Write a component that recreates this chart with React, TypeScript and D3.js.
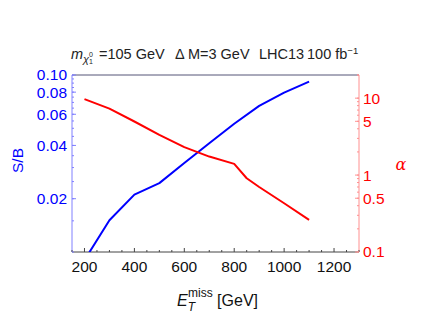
import React, { useEffect, useRef } from "react";
import * as d3 from "d3";

// E_T^miss cut [GeV]
const etCuts = [200, 300, 400, 500, 600, 700, 800, 850, 900, 1000, 1100];
const etCutsSB = [200, 300, 400, 500, 600, 700, 800, 900, 1000, 1100];
// S/B (left axis)
const sbValues = [0.009, 0.0151, 0.0211, 0.0245, 0.0318, 0.0412, 0.053, 0.0669, 0.0795, 0.0917];
// alpha (right axis)
const alphaValues = [9.7, 7.3, 4.97, 3.34, 2.31, 1.74, 1.4, 0.91, 0.7, 0.43, 0.261];

const xTicks = [200, 400, 600, 800, 1000, 1200];
const leftTicks = [0.02, 0.04, 0.06, 0.08, 0.1];
const leftTickLabels = ["0.02", "0.04", "0.06", "0.08", "0.10"];
const rightTicks = [0.1, 0.5, 1, 5, 10];
const rightTickLabels = ["0.1", "0.5", "1", "5", "10"];

const App = () => {
  const svgRef = useRef<SVGSVGElement | null>(null);

  useEffect(() => {
    const svg = d3.select(svgRef.current);
    svg.selectAll("*").remove();

    const width = 432;
    const height = 326;
    const margin = { top: 75, right: 73, bottom: 74, left: 72 };
    const w = width - margin.left - margin.right;
    const h = height - margin.top - margin.bottom;
    const font = "'Liberation Sans', Arial, sans-serif";
    const tickSize = "15.5px";

    const blue = "#0000ff";
    const red = "#ff0000";

    const x = d3.scaleLinear().domain([150, 1300]).range([0, w]);
    const yL = d3.scaleLog().domain([0.01, 0.1]).range([h, 0]);
    const yR = d3.scaleLog().domain([0.1, 20]).range([h, 0]);

    const g = svg.append("g").attr("transform", `translate(${margin.left},${margin.top})`);

    svg
      .append("defs")
      .append("clipPath")
      .attr("id", "plotclip")
      .append("rect")
      .attr("width", w)
      .attr("height", h);

    // frame
    g.append("line").attr("x1", 0).attr("x2", w).attr("y1", 0).attr("y2", 0).attr("stroke", "#555577").attr("stroke-width", 1);
    g.append("line").attr("x1", 0).attr("x2", w).attr("y1", h).attr("y2", h).attr("stroke", "#444").attr("stroke-width", 1);
    g.append("line").attr("x1", 0).attr("x2", 0).attr("y1", 0).attr("y2", h).attr("stroke", "#8080ff").attr("stroke-width", 1);
    g.append("line").attr("x1", w).attr("x2", w).attr("y1", 0).attr("y2", h).attr("stroke", "#ff9090").attr("stroke-width", 1);

    // x ticks (inside)
    const xMinor = d3.range(150, 1301, 50);
    xMinor.forEach((v) => {
      const major = v % 200 === 0;
      g.append("line")
        .attr("x1", x(v)).attr("x2", x(v))
        .attr("y1", h).attr("y2", h - (major ? 4 : 2))
        .attr("stroke", "#444");
    });
    xTicks.forEach((v) => {
      g.append("text")
        .attr("x", x(v)).attr("y", h + 20)
        .attr("text-anchor", "middle")
        .style("font-family", font).style("font-size", tickSize).style("fill", "#111")
        .text(String(v));
    });

    // left ticks
    const leftMinor = d3.range(0.01, 0.1001, 0.005);
    leftMinor.forEach((v) => {
      g.append("line").attr("x1", 0).attr("x2", 2).attr("y1", yL(v)).attr("y2", yL(v)).attr("stroke", "#8080ff");
    });
    leftTicks.forEach((v, i) => {
      g.append("line").attr("x1", 0).attr("x2", 4).attr("y1", yL(v)).attr("y2", yL(v)).attr("stroke", "#8080ff");
      g.append("text")
        .attr("x", -5).attr("y", yL(v)).attr("dy", "0.35em")
        .attr("text-anchor", "end")
        .style("font-family", font).style("font-size", tickSize).style("fill", blue)
        .text(leftTickLabels[i]);
    });
    g.append("text")
      .attr("transform", `translate(-49,${h / 2 - 3}) rotate(-90)`)
      .attr("text-anchor", "middle")
      .style("font-family", font).style("font-size", "15.5px").style("fill", blue)
      .text("S/B");

    // right ticks
    const rightMinor: number[] = [];
    [0.1, 1, 10].forEach((d) => {
      for (let k = 1; k <= 9; k++) if (d * k <= 20) rightMinor.push(d * k);
    });
    rightMinor.push(20);
    rightMinor.forEach((v) => {
      g.append("line").attr("x1", w).attr("x2", w - 2).attr("y1", yR(v)).attr("y2", yR(v)).attr("stroke", "#ff9090");
    });
    rightTicks.forEach((v, i) => {
      g.append("line").attr("x1", w).attr("x2", w - 4).attr("y1", yR(v)).attr("y2", yR(v)).attr("stroke", "#ff9090");
      g.append("text")
        .attr("x", w + 4).attr("y", yR(v)).attr("dy", "0.35em")
        .attr("text-anchor", "start")
        .style("font-family", font).style("font-size", tickSize).style("fill", red)
        .text(rightTickLabels[i]);
    });
    g.append("text")
      .attr("x", w + 42).attr("y", h / 2 + 6)
      .attr("text-anchor", "middle")
      .style("font-family", "'DejaVu Serif', serif").style("font-style", "italic").style("font-size", "16px").style("fill", red)
      .text("α");

    // lines
    const plot = g.append("g").attr("clip-path", "url(#plotclip)");
    const sbLine = d3
      .line<number>()
      .x((_, i) => x(etCutsSB[i]))
      .y((d) => yL(d));
    plot.append("path")
      .datum(sbValues)
      .attr("d", sbLine)
      .attr("fill", "none").attr("stroke", blue).attr("stroke-width", 2)
      .attr("stroke-linejoin", "round");

    const alphaLine = d3
      .line<number>()
      .x((_, i) => x(etCuts[i]))
      .y((d) => yR(d));
    plot.append("path")
      .datum(alphaValues)
      .attr("d", alphaLine)
      .attr("fill", "none").attr("stroke", red).attr("stroke-width", 2)
      .attr("stroke-linejoin", "round");

    // x axis title
    const xt = g.append("text")
      .attr("x", w / 2 + 2).attr("y", h + 54)
      .attr("text-anchor", "middle")
      .style("font-family", font).style("font-size", "16px").style("fill", "#111");
    xt.append("tspan").style("font-style", "italic").text("E");
    xt.append("tspan").attr("dy", 5).style("font-style", "italic").style("font-size", "12px").text("T");
    xt.append("tspan").attr("dx", -7).attr("dy", -14).style("font-size", "12px").text("miss");
    xt.append("tspan").attr("dy", 9).text(" [GeV]");

    // title
    const titleY = 59;
    const tt = svg.append("text")
      .attr("x", 71).attr("y", titleY)
      .style("font-family", font).style("font-size", "14.5px").style("fill", "#222");
    tt.append("tspan").style("font-style", "italic").text("m");
    tt.append("tspan").attr("dy", 4).style("font-style", "italic").style("font-size", "11px").text("χ");
    tt.append("tspan").attr("dy", -6).style("font-size", "7px").text("0");
    tt.append("tspan").attr("dx", -4).attr("dy", 7).style("font-size", "7px").text("1");
    tt.append("tspan").attr("x", 99).attr("y", titleY).text("=105 GeV");
    tt.append("tspan").attr("x", 175).attr("y", titleY).text("Δ M=3 GeV");
    tt.append("tspan").attr("x", 259).attr("y", titleY).text("LHC13");
    tt.append("tspan").attr("x", 307).attr("y", titleY).text("100 fb");
    tt.append("tspan").attr("dy", -5).style("font-size", "9.5px").text("−1");
  }, []);

  return (
    <svg
      ref={svgRef}
      width={432}
      height={326}
      style={{ position: "absolute", left: 0, top: 0, background: "#fff" }}
    />
  );
};

export default App;
